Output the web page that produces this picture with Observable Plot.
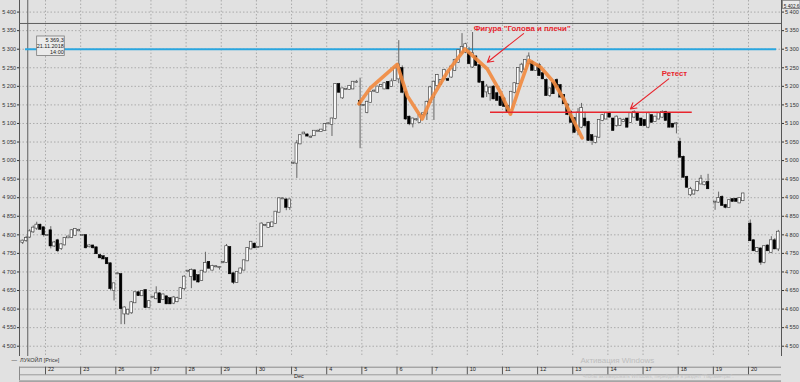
<!DOCTYPE html>
<html><head><meta charset="utf-8">
<script src="https://cdn.jsdelivr.net/npm/d3@7"></script>
<script src="https://cdn.jsdelivr.net/npm/@observablehq/plot@0.6"></script>
<style>html,body{margin:0;padding:0;background:#e1e1e1;}svg{display:block}</style>
</head><body><div id="chart"></div>
<script>
// ---- data ----
const days = ["21","22","23","26","27","28","29","30","3","4","5","6","7","10","11","12","13","14","17","18","19","20"];
const monthLabels = [{day: "3", label: "Dec"}];
const slotsPerDay = 10;
// hourly candles [open, high, low, close]; null = no candle visible
const nov21 = [null,null,null,[4780,4786,4774,4783],[4785,4796,4780,4790],[4794,4814,4790,4808],[4808,4824,4804,4818],[4818,4834,4812,4826],[4826,4829,4812,4815],[4819,4821,4794,4800]];
const nov22 = [[4798,4800,4796,4798],[4811,4822,4762,4770],[4770,4782,4766,4778],[4784,4788,4752,4757],[4763,4776,4758,4773],[4773,4792,4770,4790],[4792,4796,4790,4794],[4793,4814,4790,4811],[4799,4816,4796,4814],[4811,4815,4808,4812]];
const nov23 = [[4798,4800,4796,4798],[4798,4800,4762,4765],[4768,4773,4765,4770],[4770,4772,4762,4765],[4765,4767,4747,4749],[4744,4746,4736,4738],[4741,4743,4733,4735],[4736,4738,4720,4722],[4722,4724,4650,4655],[4650,4668,4622,4668]];
const nov26 = [[4695,4697,4693,4695],[4693,4695,4558,4601],[4587,4606,4558,4603],[4587,4598,4583,4597],[4590,4620,4586,4617],[4617,4646,4615,4644],[4644,4646,4634,4636],[4636,4650,4634,4647],[4650,4652,4602,4604],[4604,4622,4601,4620]];
const nov27 = [[4632,4634,4630,4632],[4628,4660,4625,4641],[4641,4644,4615,4617],[4626,4640,4624,4638],[4633,4635,4612,4614],[4628,4630,4612,4614],[4616,4634,4612,4630],[4620,4632,4617,4628],[4628,4657,4626,4655],[4655,4690,4650,4686]];
const nov28 = [[4702,4704,4700,4702],[4688,4708,4655,4704],[4703,4706,4676,4678],[4690,4692,4670,4673],[4677,4704,4675,4702],[4700,4753,4698,4723],[4726,4728,4708,4710],[4705,4718,4703,4715],[4714,4717,4711,4714],[4712,4714,4705,4712]];
const nov29 = [[4726,4728,4722,4726],[4726,4774,4724,4768],[4766,4768,4693,4695],[4695,4697,4666,4672],[4672,4700,4670,4699],[4697,4710,4695,4708],[4705,4732,4703,4730],[4730,4765,4728,4763],[4762,4782,4760,4780],[4775,4778,4763,4765]];
const nov30 = [[4766,4768,4764,4766],[4768,4832,4766,4829],[4825,4828,4822,4825],[4820,4833,4818,4831],[4822,4834,4820,4832],[4831,4863,4829,4861],[4861,4899,4859,4897],[4897,4899,4895,4897],[4894,4897,4865,4874],[4874,4896,4866,4894]];
const dec03 = [[4993,4995,4990,4993],[4993,5054,4952,5045],[5045,5069,5043,5067],[5072,5076,5070,5074],[5069,5072,5064,5066],[5063,5066,5060,5063],[5067,5081,5065,5079],[5079,5082,5077,5079],[5078,5084,5076,5082],[5081,5099,5079,5097]];
const dec04 = [[5099,5101,5097,5099],[5097,5114,5065,5112],[5113,5207,5110,5205],[5205,5208,5182,5184],[5169,5195,5165,5193],[5192,5194,5190,5192],[5192,5202,5190,5200],[5193,5213,5191,5211],[5211,5216,5208,5211],[5160,5222,5032,5150]];
const dec05 = [[5148,5150,5146,5148],[5130,5160,5126,5157],[5157,5186,5155,5184],[5187,5190,5184,5187],[5184,5200,5182,5198],[5200,5204,5198,5202],[5193,5209,5191,5207],[5211,5213,5191,5193],[5200,5220,5198,5212],[5216,5252,5214,5247]];
const dec06 = [[5220,5323,5207,5258],[5248,5255,5180,5184],[5184,5188,5108,5112],[5117,5120,5094,5099],[5099,5114,5088,5112],[5110,5113,5106,5110],[5103,5123,5100,5121],[5124,5128,5118,5126],[5126,5160,5108,5157],[5157,5200,5155,5196]];
const dec07 = [[5171,5214,5108,5211],[5202,5232,5198,5229],[5206,5218,5203,5216],[5220,5246,5218,5243],[5218,5222,5214,5216],[5225,5255,5222,5252],[5243,5273,5240,5270],[5265,5298,5262,5296],[5290,5342,5286,5305],[5292,5316,5288,5312]];
const dec10 = [[5288,5305,5258,5261],[5252,5345,5248,5288],[5279,5283,5254,5256],[5256,5258,5209,5211],[5211,5214,5168,5171],[5185,5205,5170,5198],[5180,5200,5160,5195],[5198,5202,5164,5166],[5180,5184,5160,5162],[5171,5174,5146,5148]];
const dec11 = [[5166,5170,5144,5146],[5146,5150,5128,5132],[5130,5186,5122,5184],[5184,5209,5180,5207],[5207,5250,5205,5248],[5240,5262,5234,5257],[5246,5272,5243,5270],[5261,5290,5258,5279],[5265,5268,5241,5243],[5243,5258,5240,5256]];
const dec12 = [[5256,5262,5227,5229],[5234,5238,5218,5220],[5216,5220,5173,5175],[5175,5195,5170,5193],[5207,5212,5178,5180],[5216,5220,5196,5198],[5202,5205,5169,5171],[5175,5178,5151,5153],[5150,5152,5121,5124],[5130,5134,5101,5103]];
const dec13 = [[5113,5115,5074,5076],[5081,5140,5067,5128],[5090,5154,5086,5140],[5112,5130,5088,5094],[5103,5106,5052,5054],[5067,5070,5041,5054],[5049,5065,5045,5063],[5063,5110,5060,5108],[5108,5124,5105,5121],[5112,5128,5110,5126]];
const dec14 = [[5126,5130,5115,5117],[5112,5114,5079,5081],[5094,5120,5090,5117],[5095,5114,5092,5110],[5105,5112,5103,5108],[5112,5114,5088,5090],[5103,5128,5100,5126],[5117,5134,5114,5130],[5126,5130,5106,5108],[5112,5114,5092,5094]];
const dec17 = [[5108,5110,5092,5094],[5090,5130,5086,5126],[5121,5124,5101,5103],[5105,5119,5103,5117],[5112,5128,5110,5126],[5117,5134,5114,5130],[5130,5133,5106,5108],[5126,5128,5088,5090],[5098,5100,5088,5090],[5099,5102,5072,5099]];
const dec18 = [[5049,5060,5007,5009],[5009,5012,4953,4955],[4955,4958,4926,4928],[4908,4928,4903,4922],[4910,4920,4907,4918],[4919,4943,4916,4941],[4937,4960,4935,4950],[4935,4942,4932,4940],[4941,4963,4922,4924],null];
const dec19 = [[4888,4890,4866,4888],[4888,4915,4885,4898],[4901,4905,4877,4879],[4879,4882,4870,4874],[4874,4894,4872,4892],[4895,4897,4888,4890],[4896,4898,4888,4890],[4886,4900,4884,4898],[4892,4912,4890,4910],null];
const dec20 = [[4829,4840,4782,4784],[4784,4787,4755,4757],[4755,4766,4752,4763],[4762,4765,4718,4726],[4726,4770,4722,4768],[4770,4773,4755,4757],[4753,4795,4750,4784],[4784,4790,4760,4762],[4762,4812,4755,4807],null];
const dayCandles = [nov21,nov22,nov23,nov26,nov27,nov28,nov29,nov30,dec03,dec04,dec05,dec06,dec07,dec10,dec11,dec12,dec13,dec14,dec17,dec18,dec19,dec20];

const yTicks = d3.range(4500, 5401, 50);
const viewTime = [2.6, 219.39];        // visible window, in hourly slots
const viewPrice = [4472.3, 5431.2];
// crosshair / info box
const crossTime = 4.95, crossPrice = 5369.3, crossDate = "21.11.2018", crossHour = "14:00";
const topRightLabel = "5 402,6";
// horizontal levels
const resistance = {price: 5300, from: 4.3, to: 218};
const neckline = {price: 5130, from: 136.6, to: 194.0};
// head & shoulders sketch (time slot, price)
const hsTime  = [99.19,102.46,110.06,112.90,117.17,119.53,124.28,129.35,135.66,139.45,142.29,144.57,147.55,150.82,154.61,157.45,159.35,162.68];
const hsPrice = [5153,5196,5259,5175,5112,5162,5238,5301,5247,5184,5125,5190,5270,5252,5211,5166,5125,5061];
// annotations
const notes = [
  {text: "Фигура \"Голова и плечи\"", t: 131.8, price: 5356, t1: 146.0, p1: 5342, t2: 135.7, p2: 5265},
  {text: "Ретест", t: 185.3, price: 5235, t1: 187.3, p1: 5220, t2: 176.4, p2: 5139}
];
const seriesLegend = "—  ЛУКОЙЛ [Price]";
const watermark1 = "Активация Windows";
const watermark2 = "Чтобы активировать Windows, перейдите в раздел \"Параметры\".";

// ---- build ----
const candles = dayCandles.flatMap((arr, k) => arr.map((c, i) => c && {
  t: k * slotsPerDay + i + 0.5, open: c[0], high: c[1], low: c[2], close: c[3]
})).filter(Boolean);
const up = candles.filter(d => d.close >= d.open);
const down = candles.filter(d => d.close < d.open);
const dayStarts = days.map((d, k) => ({day: d, t: k * slotsPerDay})).filter(d => d.t >= viewTime[0]);
const months = monthLabels.map(m => ({label: m.label, t: days.indexOf(m.day) * slotsPerDay}));
const hs = hsTime.map((t, i) => ({t, price: hsPrice[i]}));
const cross = [{t: crossTime, price: crossPrice}];
const fmtPrice = d => {
  const th = Math.floor(d / 1000), r = d - th * 1000;
  let s = (Math.round(r * 10) / 10).toFixed(Number.isInteger(d) ? 0 : 1).replace(".", ",");
  const [ip, fp] = s.split(",");
  return th + " " + ip.padStart(3, "0") + (fp ? "," + fp : "");
};
const red = "#e8262e";
const grid = {stroke: "#ababab", strokeDasharray: "1.5,2", strokeOpacity: 1};
const yLow = viewPrice[0];

const chart = Plot.plot({
  width: 800, height: 382,
  marginLeft: 19, marginRight: 19, marginTop: 0, marginBottom: 26,
  style: {background: "#e1e1e1", fontFamily: "'Liberation Sans', Arial, sans-serif"},
  x: {domain: viewTime, axis: null},
  y: {domain: viewPrice, label: null},
  marks: [
    Plot.gridY(yTicks, grid),
    Plot.gridX(dayStarts.map(d => d.t), grid),
    Plot.ruleX([viewTime[0], viewTime[1]], {stroke: "#555", strokeWidth: 1}),
    Plot.axisY(yTicks, {anchor: "left", tickSize: 2, tickPadding: 1.5, tickFormat: fmtPrice, fontSize: 5.5, color: "#333", label: null}),
    Plot.axisY(yTicks, {anchor: "right", tickSize: 2, tickPadding: 1.5, tickFormat: fmtPrice, fontSize: 5.5, color: "#333", label: null}),
    // crosshair
    Plot.ruleY([crossPrice], {stroke: "#5e5e5e", strokeWidth: 1}),
    Plot.ruleX([crossTime], {stroke: "#5e5e5e", strokeWidth: 1}),
    // resistance level
    Plot.ruleY([resistance], {y: "price", x1: "from", x2: "to", stroke: "#2aa6df", strokeWidth: 2}),
    // candles
    Plot.ruleX(candles, {x: "t", y1: "low", y2: "high", stroke: "#666", strokeWidth: 1}),
    Plot.rect(up, {x1: "t", x2: "t", y1: "open", y2: "close", insetLeft: -1.3, insetRight: -1.3, insetTop: -0.5, insetBottom: -0.5, fill: "#fff", stroke: "#4a4a4a", strokeWidth: 0.7}),
    Plot.rect(down, {x1: "t", x2: "t", y1: "open", y2: "close", insetLeft: -1.3, insetRight: -1.3, insetTop: -0.5, insetBottom: -0.5, fill: "#000", stroke: "#000", strokeWidth: 0.5}),
    // pattern sketch
    Plot.line(hs, {x: "t", y: "price", stroke: "#f28a3e", strokeWidth: 3.6, strokeOpacity: 0.9, strokeLinejoin: "round", strokeLinecap: "round"}),
    Plot.ruleY([neckline], {y: "price", x1: "from", x2: "to", stroke: red, strokeWidth: 1.4}),
    Plot.arrow(notes, {x1: "t1", y1: "p1", x2: "t2", y2: "p2", stroke: red, strokeWidth: 1.1, headLength: 9}),
    Plot.text(notes, {x: "t", y: "price", text: "text", textAnchor: "start", fill: red, fontSize: 7.8, fontWeight: "bold"}),
    // info box
    Plot.rect(cross, {x1: "t", x2: "t", y1: "price", y2: "price", insetLeft: 9.4, insetRight: -37, insetTop: 13, insetBottom: -32.5, fill: "#ebebeb", stroke: "#7a7a7a", strokeWidth: 0.8}),
    Plot.text(cross, {x: "t", y: "price", text: d => fmtPrice(d.price) + "\n" + crossDate + "\n" + crossHour, dx: 36, dy: 13.6, textAnchor: "end", lineAnchor: "top", lineHeight: 1.13, fontSize: 5.5, fill: "#222"}),
    // top-right value box
    Plot.rect([{t: viewTime[1], price: viewPrice[1]}], {x1: "t", x2: "t", y1: "price", y2: "price", insetLeft: 1.5, insetRight: -19, insetTop: 0.3, insetBottom: -8.5, fill: "#eaeaea", stroke: "#777", strokeWidth: 0.8}),
    Plot.text([topRightLabel], {frameAnchor: "top-right", dx: 2.3, dy: 4.5, textAnchor: "start", fontSize: 4.7, fill: "#222"}),
    // legend + time strip
    Plot.text([seriesLegend], {frameAnchor: "bottom-left", dx: -8, dy: 5.3, textAnchor: "start", fontSize: 5.5, fill: "#333"}),
    Plot.ruleY([yLow], {dy: 10.7, stroke: "#8a8a8a", strokeWidth: 1}),
    Plot.ruleY([yLow], {dy: 18.3, stroke: "#9a9a9a", strokeWidth: 1}),
    Plot.ruleY([yLow], {dy: 24.8, stroke: "#a5a5a5", strokeWidth: 2}),
    Plot.ruleX([viewTime[0]], {y1: yLow, y2: yLow, insetTop: 10.7, insetBottom: -24, stroke: "#8a8a8a"}),
    Plot.ruleX(dayStarts, {x: "t", y1: yLow, y2: yLow, insetTop: 10.7, insetBottom: -18.3, stroke: "#555"}),
    Plot.text(dayStarts, {x: "t", text: "day", frameAnchor: "bottom", dy: 14.4, dx: 2.5, textAnchor: "start", fontSize: 5.5, fill: "#222"}),
    Plot.text(months, {x: "t", text: "label", frameAnchor: "bottom", dy: 21.3, dx: 2.5, textAnchor: "start", fontSize: 5.5, fill: "#222"}),
    Plot.text([watermark1], {frameAnchor: "bottom-right", dx: -201, dy: 6.8, textAnchor: "start", fontSize: 8, fill: "#bdbdbd"}),
    Plot.text([watermark2], {frameAnchor: "bottom-right", dx: -199, dy: 21.4, textAnchor: "start", fontSize: 5, fill: "#c4c4c4"})
  ]
});
document.getElementById("chart").append(chart);
</script></body></html>
